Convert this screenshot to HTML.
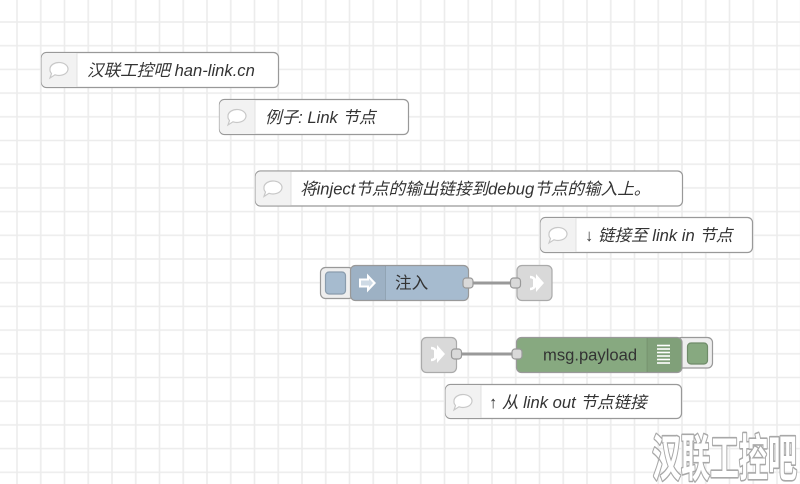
<!DOCTYPE html>
<html><head><meta charset="utf-8">
<style>
html,body{margin:0;padding:0;background:#fff;}
svg{display:block;}
.t{font-family:"Liberation Sans","Noto Sans CJK SC",sans-serif;font-size:16.6px;fill:#333;}
.i{font-style:italic;}
</style></head>
<body>
<svg width="800" height="484" viewBox="0 0 800 484" xmlns="http://www.w3.org/2000/svg">
<defs>
<pattern id="g" patternUnits="userSpaceOnUse" x="5.125" y="10.15" width="23.75" height="23.7">
<line x1="11.875" y1="0" x2="11.875" y2="23.7" stroke="#ececec" stroke-width="1.6"/>
<line x1="0" y1="11.85" x2="23.75" y2="11.85" stroke="#ececec" stroke-width="1.6"/>
</pattern>
<g id="bub">
<path d="M-9,0 a9,6.5 0 1,1 5,5.8 l-5,3.2 l1.5,-4.5 a9,6.5 0 0,1 -1.5,-4.5z" fill="#fff" stroke="#c8c8c8" stroke-width="1.2"/>
</g>
</defs>
<rect width="800" height="484" fill="#fff"/>
<rect width="800" height="484" fill="url(#g)"/>

<!-- comment 1 -->
<rect x="41.5" y="52.5" width="237" height="35" rx="5" fill="#fff" stroke="#999" stroke-width="1.2"/>
<path d="M77,53 v34 h-30.5 a5,5 0 0 1 -5,-5 v-24 a5,5 0 0 1 5,-5z" fill="#f2f2f2"/>
<line x1="77" y1="53" x2="77" y2="87" stroke="#e0e0e0"/>
<use href="#bub" x="59" y="69"/>
<text class="t i" x="87" y="76">汉联工控吧 han-link.cn</text>

<!-- comment 2 -->
<rect x="219.5" y="99.5" width="189" height="35" rx="5" fill="#fff" stroke="#999" stroke-width="1.2"/>
<path d="M255,100 v34 h-30.5 a5,5 0 0 1 -5,-5 v-24 a5,5 0 0 1 5,-5z" fill="#f2f2f2"/>
<line x1="255" y1="100" x2="255" y2="134" stroke="#e0e0e0"/>
<use href="#bub" x="237" y="116"/>
<text class="t i" x="265" y="123">例子: Link 节点</text>

<!-- comment 3 -->
<rect x="255.5" y="171" width="427" height="35" rx="5" fill="#fff" stroke="#999" stroke-width="1.2"/>
<path d="M291,171.5 v34 h-30.5 a5,5 0 0 1 -5,-5 v-24 a5,5 0 0 1 5,-5z" fill="#f2f2f2"/>
<line x1="291" y1="171.5" x2="291" y2="205.5" stroke="#e0e0e0"/>
<use href="#bub" x="273" y="187.5"/>
<text class="t i" x="300" y="194.5">将inject节点的输出链接到debug节点的输入上。</text>

<!-- comment 4 -->
<rect x="540.5" y="217.5" width="212" height="35" rx="5" fill="#fff" stroke="#999" stroke-width="1.2"/>
<path d="M576,218 v34 h-30.5 a5,5 0 0 1 -5,-5 v-24 a5,5 0 0 1 5,-5z" fill="#f2f2f2"/>
<line x1="576" y1="218" x2="576" y2="252" stroke="#e0e0e0"/>
<use href="#bub" x="558" y="234"/>
<text class="t i" x="585" y="241">↓ 链接至 link in 节点</text>

<!-- inject button -->
<rect x="320.5" y="267.5" width="33" height="31" rx="5" fill="#eee" stroke="#999" stroke-width="1.2"/>
<rect x="325.5" y="272" width="20" height="22" rx="3.5" fill="#a6bbcf" stroke="#8a9cad" stroke-width="1.2"/>
<!-- inject node -->
<rect x="350.5" y="265.5" width="118" height="35" rx="5" fill="#a6bbcf" stroke="#999" stroke-width="1.2"/>
<path d="M385.5,266 v34 h-29.5 a5,5 0 0 1 -5,-5 v-24 a5,5 0 0 1 5,-5z" fill="#000" fill-opacity="0.05"/>
<line x1="385.5" y1="266" x2="385.5" y2="300" stroke="#000" stroke-opacity="0.1"/>
<path d="M359,278.5 h8 v-5 l9,9.5 l-9,9.5 v-5 h-8z" fill="#fff"/>
<path d="M361,280.5 h8 v-2 l4,4.5 l-4,4.5 v-2 h-8z" fill="#a6bbcf" opacity="0.55"/>
<text class="t" x="395" y="288.5">注入</text>
<!-- inject port -->
<rect x="463" y="278" width="10" height="10" rx="3" fill="#d9d9d9" stroke="#999" stroke-width="1.2"/>

<!-- wire 1 -->
<line x1="473" y1="283" x2="511" y2="283" stroke="#999" stroke-width="3"/>

<!-- link out -->
<rect x="517" y="265.5" width="35" height="35" rx="5" fill="#d9d9d9" stroke="#aaa" stroke-width="1.2"/>
<path d="M530,277 a6,6 0 0 1 0,12" fill="none" stroke="#fff" stroke-width="2.5"/>
<path d="M533,279 h3 v-5 l8,9 l-8,9 v-5 h-3z" fill="#fff"/>
<rect x="510.5" y="278" width="10" height="10" rx="3" fill="#d9d9d9" stroke="#999" stroke-width="1.2"/>

<!-- link in -->
<rect x="421.5" y="337.5" width="35" height="35" rx="5" fill="#d9d9d9" stroke="#aaa" stroke-width="1.2"/>
<path d="M431,348 a6,6 0 0 1 0,12" fill="none" stroke="#fff" stroke-width="2.5"/>
<path d="M434,350 h3 v-5 l8,9 l-8,9 v-5 h-3z" fill="#fff"/>
<rect x="451.5" y="349" width="10" height="10" rx="3" fill="#d9d9d9" stroke="#999" stroke-width="1.2"/>

<!-- wire 2 -->
<line x1="461.5" y1="354" x2="512" y2="354" stroke="#999" stroke-width="3"/>

<!-- debug button -->
<rect x="676.5" y="337.5" width="36" height="30.5" rx="5" fill="#eee" stroke="#999" stroke-width="1.2"/>
<rect x="687.5" y="343" width="20" height="21" rx="3.5" fill="#87a980" stroke="#6f8c69" stroke-width="1.2"/>
<!-- debug node -->
<rect x="516.5" y="337.5" width="165.5" height="35" rx="5" fill="#87a980" stroke="#999" stroke-width="1.2"/>
<path d="M647,338 v34 h29.5 a5,5 0 0 0 5,-5 v-24 a5,5 0 0 0 -5,-5z" fill="#000" fill-opacity="0.05"/>
<line x1="647" y1="338" x2="647" y2="372" stroke="#000" stroke-opacity="0.1"/>
<g stroke="#fff" stroke-width="1.6">
<line x1="657" y1="345.5" x2="670" y2="345.5"/>
<line x1="657" y1="349" x2="670" y2="349"/>
<line x1="657" y1="352.5" x2="670" y2="352.5"/>
<line x1="657" y1="356" x2="670" y2="356"/>
<line x1="657" y1="359.5" x2="670" y2="359.5"/>
<line x1="657" y1="363" x2="670" y2="363"/>
</g>
<text class="t" x="543" y="360.5">msg.payload</text>
<rect x="512" y="349" width="10" height="10" rx="3" fill="#d9d9d9" stroke="#999" stroke-width="1.2"/>

<!-- comment 5 -->
<rect x="445.5" y="384.5" width="236" height="34" rx="5" fill="#fff" stroke="#999" stroke-width="1.2"/>
<path d="M481,385 v33 h-30.5 a5,5 0 0 1 -5,-5 v-23 a5,5 0 0 1 5,-5z" fill="#f2f2f2"/>
<line x1="481" y1="385" x2="481" y2="418" stroke="#e0e0e0"/>
<use href="#bub" x="463" y="401"/>
<text class="t i" x="489" y="408">↑ 从 link out 节点链接</text>

<!-- watermark -->
<text x="652" y="476" textLength="145" lengthAdjust="spacingAndGlyphs" style="font-family:'Noto Sans CJK SC','WenQuanYi Zen Hei',sans-serif;font-size:50px;font-weight:bold;paint-order:stroke;" fill="#fff" stroke="#a8a8a8" stroke-width="3.2" stroke-linejoin="round">汉联工控吧</text>
</svg>
</body></html>
